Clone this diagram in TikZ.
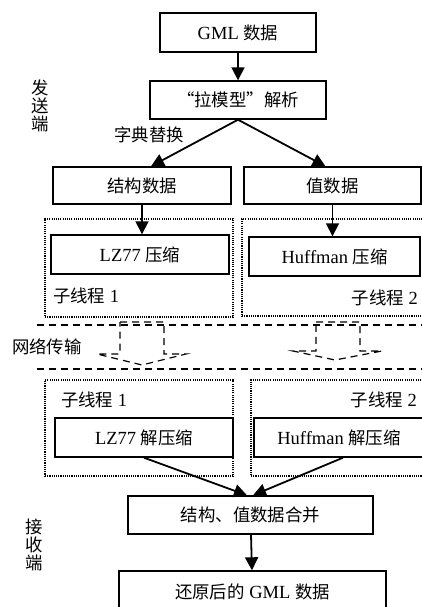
\documentclass[tikz,border=0pt]{standalone}
\usepackage{fontspec}
\setmainfont{Liberation Serif}
\newfontfamily\cjk[Scale=0.94]{Noto Sans CJK SC}
\usetikzlibrary{arrows.meta}

\begin{document}
\begin{tikzpicture}[
  x=1pt, y=-1pt,
  every node/.style={font=\fontsize{18.5}{20}\selectfont, inner sep=0pt},
  box/.style={draw, line width=1.4pt, minimum height=38pt}, % plain step boxes
  thread/.style={draw, line width=1.3pt, dash pattern=on 1.1pt off 1.1pt},
  net/.style={line width=1.2pt, dash pattern=on 7pt off 5pt},
  flow/.style={line width=1.8pt, -{Triangle[length=13pt,width=13pt]}},
  side/.style={align=center, font=\fontsize{18.5}{18}\selectfont\cjk}
]
  \useasboundingbox (0,0) rectangle (422,607);

  % sender
  \node[box, minimum width=156pt, minimum height=39pt] (gml) at (238,32.5) {GML {\cjk 数据}};
  \node[box, minimum width=176pt] (parse) at (238,100) {\cjk “拉模型”解析};
  \node[box, minimum width=178pt, minimum height=37pt] (struct) at (142,185.5) {\cjk 结构数据};
  \node[box, minimum width=177pt, minimum height=37pt] (value) at (332.5,185.5) {\cjk 值数据};
  \node (dict) at (149,135) {\cjk 字典替换};
  \node[side] (send) at (40,106) {发\\送\\端};

  \node[thread, minimum width=188pt, minimum height=98pt] (th1) at (139,268) {};
  \node[thread, minimum width=188pt, minimum height=97pt] (th2) at (336,267.5) {};
  \node[box, minimum width=178pt, minimum height=39pt] (lz) at (140,254.5) {LZ77 {\cjk 压缩}};
  \node[box, minimum width=171pt, minimum height=39pt] (huff) at (334.5,256.5) {Huffman {\cjk 压缩}};
  \node[anchor=west] (th1l) at (53,296) {{\cjk 子线程} 1};
  \node[anchor=east] (th2l) at (418,298) {{\cjk 子线程} 2};

  \draw[flow] (gml) -- (parse);
  \draw[flow] (parse.south) -- ([xshift=9pt]struct.north);
  \draw[flow] (parse.south) -- ([xshift=-7pt]value.north);
  \draw[flow] (struct.south) -- (struct.south |- lz.north);
  \draw[flow] (value.south) -- (value.south |- huff.north);

  % network
  \draw[net] (37,325) -- (430,325);
  \draw[net] (37,369) -- (430,369);
  \node (netl) at (47,347) {\cjk 网络传输};
  \draw[net] (120,322) -- (164,322) -- (164,354) -- (186,354) -- (142,365)
    -- (97,354) -- (120,354) -- cycle;
  \draw[net] (316,322) -- (360,322) -- (360,351) -- (382,351) -- (335,360)
    -- (293,351) -- (316,351) -- cycle;

  % receiver
  \node[thread, minimum width=188pt, minimum height=96pt] (th3) at (139,428) {};
  \node[thread, minimum width=180pt, minimum height=96pt] (th4) at (341,428) {};
  \node[anchor=west] (th3l) at (61,400) {{\cjk 子线程} 1};
  \node[anchor=east] (th4l) at (417,400) {{\cjk 子线程} 2};
  \node[box, minimum width=178pt, minimum height=39pt] (lzd) at (144,437.5) {LZ77 {\cjk 解压缩}};
  \node[box, minimum width=170pt, minimum height=39pt] (huffd) at (339,437.5) {Huffman {\cjk 解压缩}};
  \node[box, minimum width=245pt] (merge) at (250.5,515) {\cjk 结构、值数据合并};
  \node[box, minimum width=267pt, minimum height=42pt] (restore) at (252.5,592) {{\cjk 还原后的} GML {\cjk 数据}};
  \node[side] (recv) at (34,545) {接\\收\\端};

  \draw[flow] (lzd.south) -- ([xshift=-3.5pt]merge.north);
  \draw[flow] ([xshift=4pt]huffd.south) -- ([xshift=2.5pt]merge.north);
  \draw[flow] (merge) -- (restore);
\end{tikzpicture}
\end{document}
